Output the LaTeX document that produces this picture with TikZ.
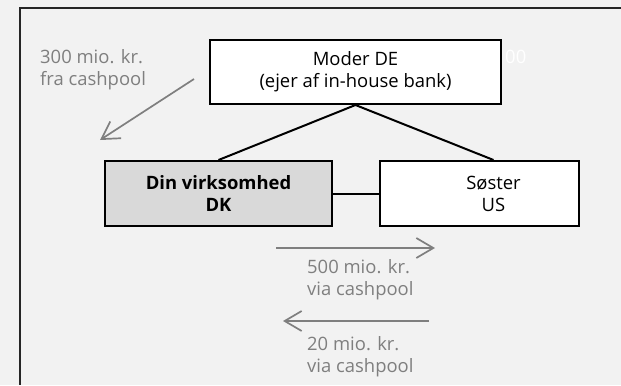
\documentclass[tikz,border=0pt]{standalone}
\usepackage{fontspec}
\setmainfont{Open Sans}
\usetikzlibrary{arrows.meta}
\definecolor{bggray}{HTML}{F2F2F2}
\definecolor{boxgray}{HTML}{D9D9D9}
\definecolor{flowgray}{HTML}{7F7F7F}

\begin{document}
\begin{tikzpicture}[x=1bp, y=-1bp,
    entity/.style={draw=black, line width=2bp, fill=white, align=center,
        inner sep=0pt, minimum height=65bp, font=\fontsize{18.5}{22}\selectfont},
    tie/.style={draw=black, line width=2bp},
    flowlabel/.style={anchor=base west, align=left, inner sep=0pt, text=flowgray,
        font=\fontsize{18.5}{22}\selectfont},
    flow/.style={draw=flowgray, line width=1.7bp,
        -{Straight Barb[length=17bp, width=20bp]}}]

    % background and frame
    \fill[bggray] (0,0) rectangle (621,385);
    \useasboundingbox (0,0) rectangle (621,385);
    \draw[line width=2bp, black!85] (621,8) -- (19.5,8) -- (19.5,385);

    % companies
    \node[entity, minimum width=291bp, minimum height=64bp] (moder) at (355.5,72)
        {Moder DE\\(ejer af in-house bank)};
    \node[entity, fill=boxgray, minimum width=227bp, font=\fontsize{18.5}{22}\selectfont\bfseries]
        (din) at (218.5,193.5) {Din virksomhed\\DK};
    \node[entity, minimum width=199bp] (soster) at (479.5,193.5)
        {\hspace*{28bp}Søster\\\hspace*{28bp}US};

    \draw[tie] (din.north) -- (moder.south) -- ([xshift=14bp]soster.north);
    \draw[tie] (din.east) -- (soster.west);

    % cash flows
    \coordinate (a300s) at (194,79);
    \coordinate (a300e) at (100,140);
    \coordinate (a500s) at (276,248);
    \coordinate (a500e) at (435,248);
    \coordinate (a20s) at (429,321);
    \coordinate (a20e) at (283,321);

    \draw[flow] (a300s) -- (a300e);
    \draw[flow] (a500s) -- (a500e);
    \draw[flow] (a20s) -- (a20e);

    \node[flowlabel] (lbl300) at (40,85) {300 mio. kr.\\fra cashpool};
    \node[flowlabel] (lbl500) at (307,295) {500 mio. kr.\\via cashpool};
    \node[flowlabel] (lbl20) at (307,372) {20 mio. kr.\\via cashpool};
    \node[flowlabel, text=white] (lblhid) at (505,63) {00};
\end{tikzpicture}
\end{document}
